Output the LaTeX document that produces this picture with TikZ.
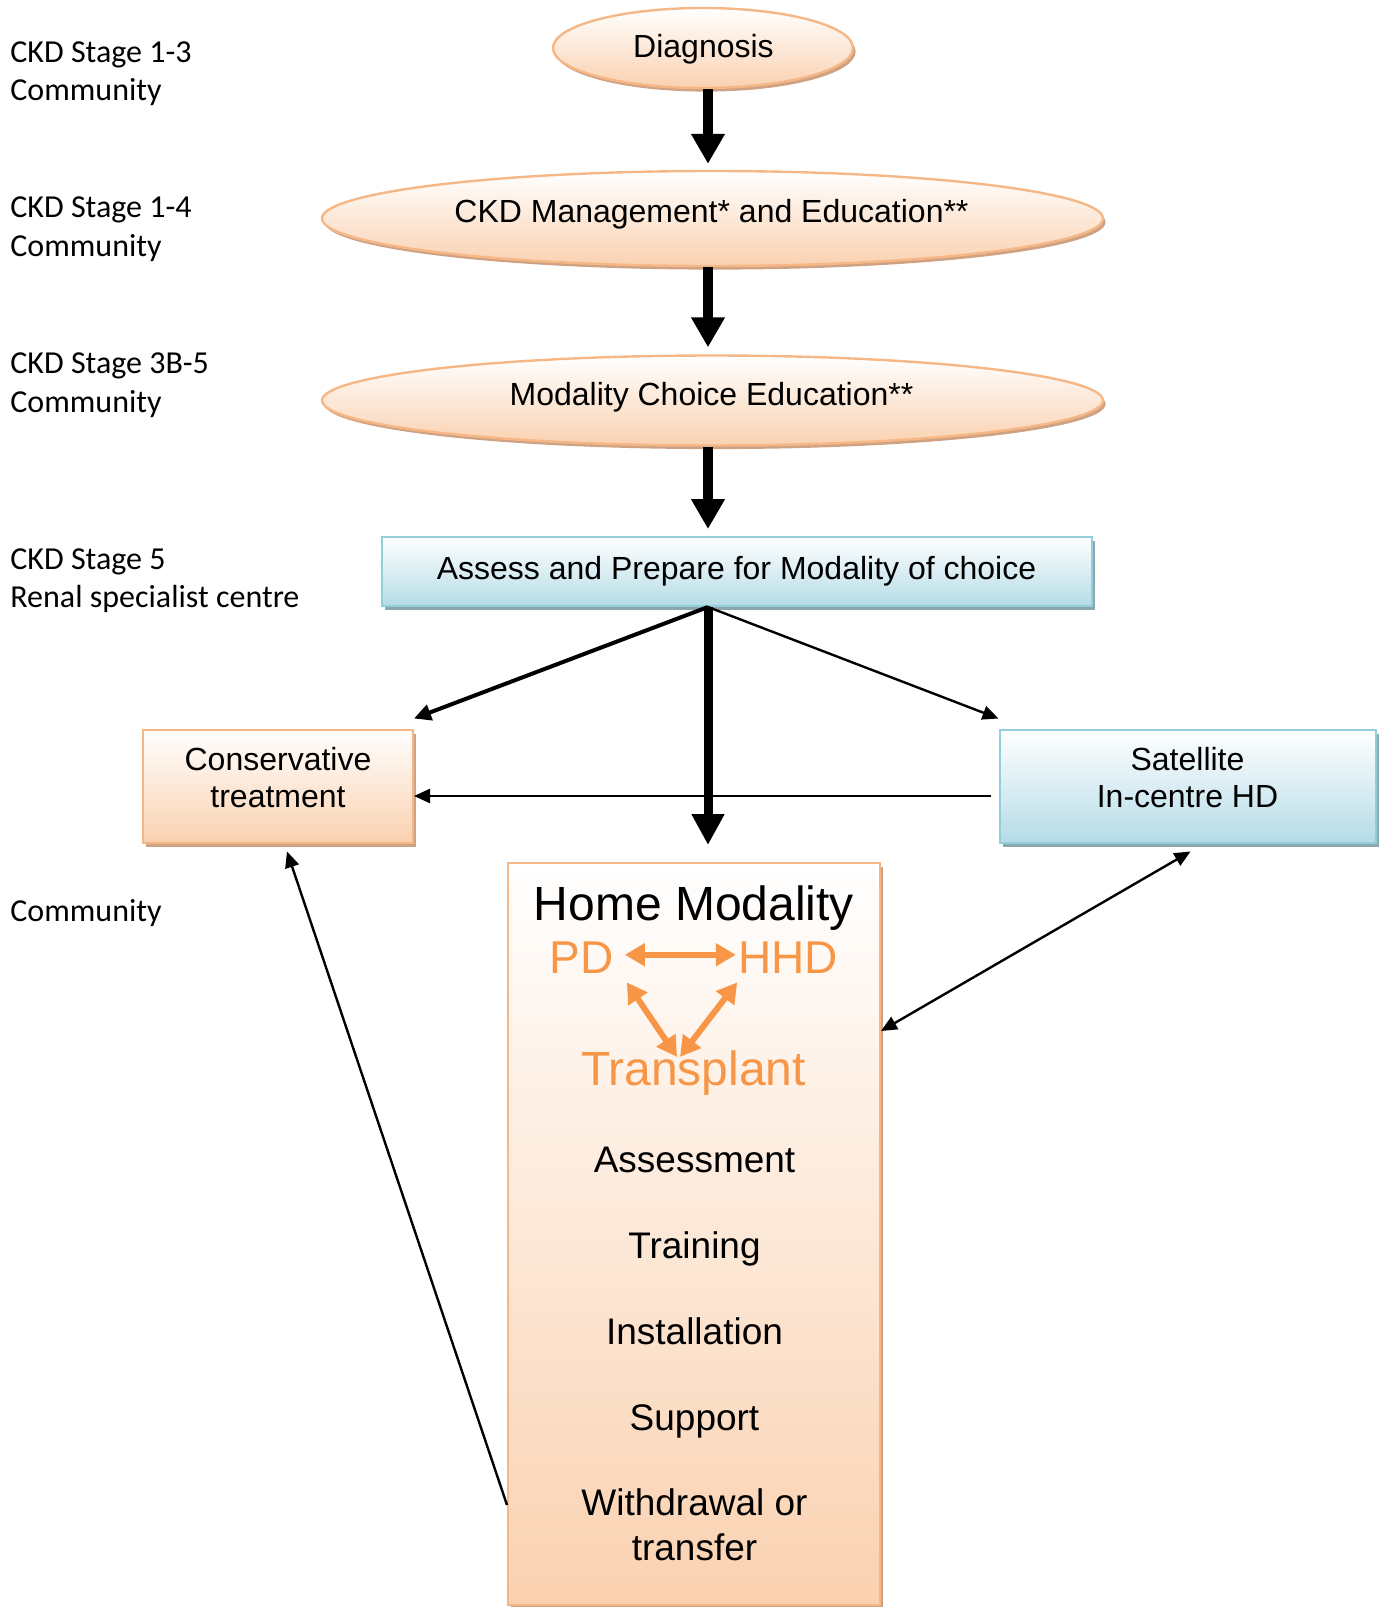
\documentclass[tikz,border=0pt]{standalone}
\usepackage{fontspec}
\setmainfont{Liberation Sans}
\newfontfamily\calfont{Carlito}
\usetikzlibrary{shapes.geometric,arrows.meta,shadows}
\definecolor{peach}{HTML}{FAD1B0}
\definecolor{orline}{HTML}{F6B786}
\definecolor{orshadow}{HTML}{CFA283}
\definecolor{bluefill}{HTML}{B5DCE7}
\definecolor{blueline}{HTML}{93CEDD}
\definecolor{blueshadow}{HTML}{8DA7AF}
\definecolor{accent}{HTML}{F79646}
\begin{document}
\begin{tikzpicture}[x=0.5pt,y=-0.5pt,
  oval/.style={ellipse, draw=orline, line width=1.2pt, top color=white, bottom color=peach, inner sep=0pt,
    drop shadow={shadow xshift=1.3pt, shadow yshift=-1.8pt, fill=orshadow, opacity=1}},
  orbox/.style={rectangle, draw=orline, line width=1pt, top color=white, bottom color=peach, inner sep=0pt,
    drop shadow={shadow xshift=1.5pt, shadow yshift=-2pt, fill=orshadow, opacity=1}},
  bluebox/.style={rectangle, draw=blueline, line width=1pt, top color=white, bottom color=bluefill, inner sep=0pt,
    drop shadow={shadow xshift=1.5pt, shadow yshift=-2pt, fill=blueshadow, opacity=1}},
  txt/.style={inner sep=0pt, font=\fontsize{16}{18.5}\selectfont},
  big/.style={inner sep=0pt, font=\fontsize{24}{28}\selectfont, anchor=base},
  orbig/.style={inner sep=0pt, font=\fontsize{23}{27}\selectfont, text=accent, anchor=base},
  item/.style={inner sep=0pt, font=\fontsize{18.5}{22.5}\selectfont, anchor=base},
  side/.style={inner sep=0pt, anchor=north west, align=left, font=\calfont\fontsize{16}{19.3}\selectfont},
  heavy/.style={line width=5pt, -{Triangle[width=16pt,length=15pt]}},
  heavyb/.style={line width=4.5pt, -{Triangle[width=15.5pt,length=15.5pt]}},
  medarr/.style={line width=2pt, -{Triangle[width=8pt,length=8.5pt]}},
  thinarr/.style={line width=1.2pt, -{Triangle[width=7pt,length=8pt]}},
  thinboth/.style={line width=1.2pt, {Triangle[width=7pt,length=8pt]}-{Triangle[width=7pt,length=8pt]}},
  orarr/.style={draw=accent, line width=3pt, {Triangle[width=11pt,length=10pt]}-{Triangle[width=11pt,length=10pt]}}
]
\useasboundingbox (0,0) rectangle (1380,1607);

% side labels
\node[side] (l1) at (10,41) {CKD Stage 1-3\\Community};
\node[side] (l2) at (10,196.7) {CKD Stage 1-4\\Community};
\node[side] (l3) at (10,352.4) {CKD Stage 3B-5\\Community};
\node[side] (l4) at (10,548.1) {CKD Stage 5\\Renal specialist centre};
\node[side] (l5) at (10,899.5) {Community};

% ellipses
\node[oval, minimum width=150pt, minimum height=40pt] (diag) at (703,48) {};
\node[txt, anchor=base] (diagt) at (703.5,57) {Diagnosis};
\node[oval, minimum width=390.5pt, minimum height=47.5pt] (ckd) at (712.5,218.5) {};
\node[txt, anchor=base] (ckdt) at (711.5,222) {CKD Management* and Education**};
\node[oval, minimum width=390.5pt, minimum height=45pt] (mce) at (712.5,400.5) {};
\node[txt, anchor=base] (mcet) at (711.5,405) {Modality Choice Education**};

% boxes
\node[bluebox, minimum width=355pt, minimum height=34.5pt] (assess) at (736.5,571.5) {};
\node[txt, anchor=base] (assesst) at (736.5,579) {Assess and Prepare for Modality of choice};
\node[orbox, minimum width=135pt, minimum height=56.5pt] (cons) at (278,786) {};
\node[txt, align=center, anchor=north] (const) at (278,746.5) {Conservative\\treatment};
\node[bluebox, minimum width=188pt, minimum height=56.5pt] (sat) at (1187.5,786) {};
\node[txt, align=center, anchor=north] (satt) at (1187.5,746.5) {Satellite\\In-centre HD};
\node[orbox, minimum width=186pt, minimum height=371pt] (home) at (694,1234) {};

% home content
\node[big] (hm) at (694,920) {Home Modality};
\node[orbig] (pd) at (581.5,973) {PD};
\node[orbig] (hhd) at (788,973) {HHD};
\node[big, text=accent] (tr) at (693.5,1085) {Transplant};
\node[item] (i1) at (694.5,1172) {Assessment};
\node[item] (i2) at (694.5,1258) {Training};
\node[item] (i3) at (694.5,1344) {Installation};
\node[item] (i4) at (694.5,1430) {Support};
\node[item, anchor=north, align=center] (i5) at (694.5,1488) {Withdrawal or\\transfer};

% orange arrows
\draw[orarr] ([xshift=5.5pt,yshift=1.2pt]pd.east) -- ([xshift=-1pt,yshift=1.2pt]hhd.west);
\draw[orarr] ([xshift=6.5pt,yshift=-4.5pt]pd.south east) -- ([xshift=-8.25pt,yshift=-3.5pt]tr.north);
\draw[orarr] ([xshift=-0.3pt,yshift=-4.5pt]hhd.south west) -- ([xshift=-6.75pt,yshift=-3.5pt]tr.north);

% main arrows
\coordinate (ax) at (708,0);
\draw[heavy, shorten >=3pt] (diag.south -| ax) -- (ckd.north -| ax);
\draw[heavy, shorten >=3.5pt] (ckd.south -| ax) -- (mce.north -| ax);
\draw[heavy, shorten >=3.5pt] (mce.south -| ax) -- (assess.north -| ax);
\coordinate (src) at (assess.south -| ax);
\draw[heavyb, shorten >=8.5pt] (src) -- (home.north -| ax);
\draw[medarr] (src) -- ([yshift=5pt]cons.north east);
\draw[thinarr] (src) -- ([yshift=5pt]sat.north west);
\draw[thinarr] ([xshift=-4pt,yshift=-5pt]sat.west) -- ([yshift=-5pt]cons.east);
\draw[thinarr] ([yshift=50.5pt]home.south west) -- ([xshift=4.5pt,yshift=-4pt]cons.south);
\draw[thinboth] ([yshift=-84.5pt]home.north east) -- ([xshift=1.5pt,yshift=-4pt]sat.south);
\end{tikzpicture}
\end{document}
